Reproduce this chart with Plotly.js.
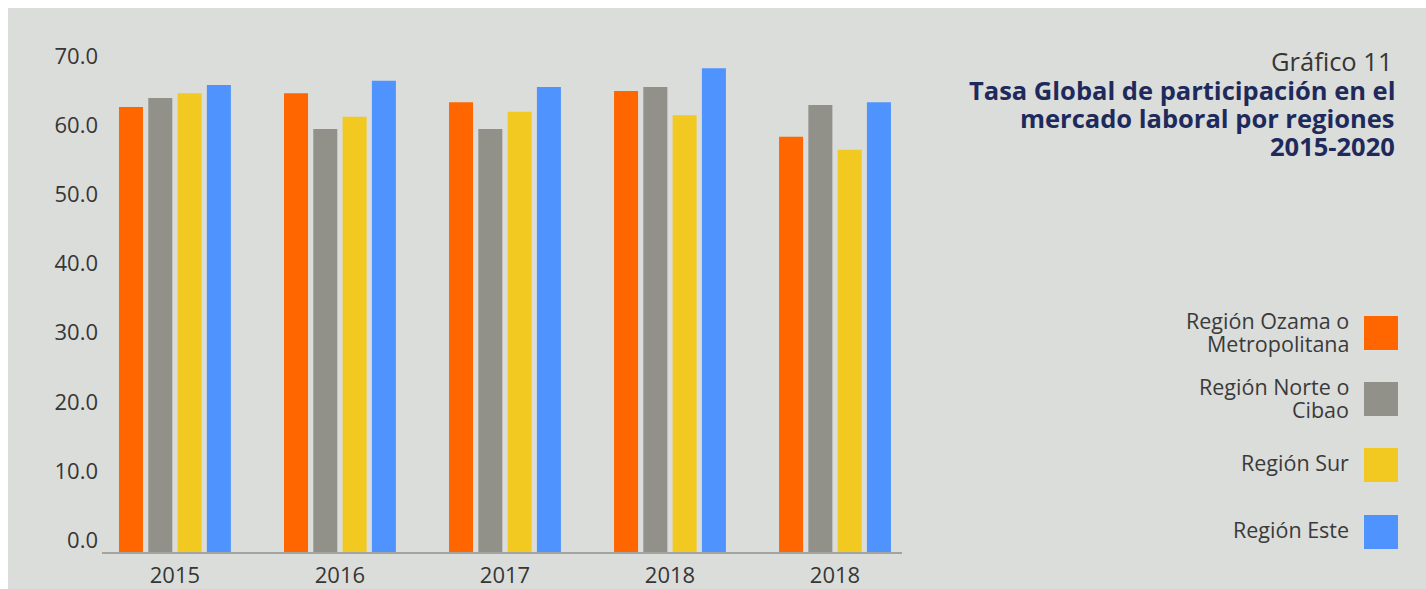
<!DOCTYPE html>
<html>
<head>
<meta charset="utf-8">
<script src="https://cdn.plot.ly/plotly-3.0.1.min.js"></script>
<style>html,body{margin:0;padding:0;background:#fff;}#chart{width:1426px;height:589px;}</style>
</head>
<body>
<div id="chart"></div>
<script>
// ---- data ----
const years = ["2015", "2016", "2017", "2018", "2018"];
const seriesNames = ["Región Ozama o Metropolitana", "Región Norte o Cibao", "Región Sur", "Región Este"];
const legendLabels = [["Región Ozama o", "Metropolitana"], ["Región Norte o", "Cibao"], ["Región Sur"], ["Región Este"]];
const ozama = [64.4, 66.4, 65.1, 66.7, 60.1];
const norte = [65.7, 61.2, 61.2, 67.3, 64.7];
const sur   = [66.4, 63.0, 63.7, 63.2, 58.2];
const este  = [67.6, 68.2, 67.3, 70.0, 65.1];
const yTicks = [0, 10, 20, 30, 40, 50, 60, 70];
const titleTop = "Gráfico 11";
const titleLines = ["Tasa Global de participación en el", "mercado laboral por regiones", "2015-2020"];

// ---- style ----
const colors = ["#FF6600", "#91918A", "#F2C921", "#4F93FF"];
const values = [ozama, norte, sur, este];
const W = 1426, H = 589;
const L = 102, R = 902, T = 34, B = 552;
const fontFam = "'Open Sans', Lato, sans-serif";
const px = x => (x - L) / (R - L);
const py = y => (B - y) / (B - T);
const xIdx = years.map((_, i) => i);

const traces = values.map((v, i) => ({
  type: "bar", x: xIdx, y: v, name: seriesNames[i],
  marker: {color: colors[i]}, hoverinfo: "y+name"
}));

const shapes = [{
  type: "rect", xref: "paper", yref: "paper", layer: "below",
  x0: px(8), x1: px(W + 5), y0: py(H + 5), y1: py(8),
  fillcolor: "#DBDDDA", line: {width: 0}
}];
const annotations = [];

// title
annotations.push({xref: "paper", yref: "paper", x: px(1394), y: py(61), xanchor: "right", yanchor: "middle",
  text: titleTop, showarrow: false, borderpad: 0, font: {family: fontFam, size: 25.5, color: "#363636"}});
titleLines.forEach((t, i) => annotations.push({
  xref: "paper", yref: "paper", x: px(1396), y: py(90 + i * 28), xanchor: "right", yanchor: "middle",
  text: "<b>" + t + "</b>", showarrow: false, borderpad: 0, font: {family: fontFam, size: 25.5, color: "#1F2A5C"}
}));

// legend (swatches to the right of labels)
const legCenters = [333, 399, 465, 532];
seriesNames.forEach((n, i) => {
  const c = legCenters[i];
  shapes.push({type: "rect", xref: "paper", yref: "paper", x0: px(1364), x1: px(1398),
    y0: py(c + 17), y1: py(c - 17), fillcolor: colors[i], line: {width: 0}});
  const lines = legendLabels[i];
  const offs = lines.length === 2 ? [-13, 10] : [-3];
  lines.forEach((t, j) => annotations.push({xref: "paper", yref: "paper", x: px(1350), y: py(c + offs[j]),
    xanchor: "right", yanchor: "middle", text: t, showarrow: false, borderpad: 0,
    font: {family: fontFam, size: 21.5, color: "#3A3A3A"}}));
});

const layout = {
  width: W, height: H,
  margin: {l: L, r: W - R, t: T, b: H - B, pad: 0},
  paper_bgcolor: "#FFFFFF", plot_bgcolor: "rgba(0,0,0,0)",
  barmode: "group", bargap: 0.29, bargroupgap: 0.18,
  showlegend: false,
  xaxis: {
    range: [-0.442, 4.406], tickvals: xIdx, ticktext: years,
    showgrid: false, zeroline: false, showline: true, linecolor: "#A3A39F", linewidth: 2,
    ticks: "", ticklabelstandoff: 3,
    tickfont: {family: fontFam, size: 22, color: "#363636"}, fixedrange: true
  },
  yaxis: {
    range: [0, (B - T) / 6.91], tickvals: yTicks, tickformat: ".1f",
    showgrid: false, zeroline: false, showline: false, ticks: "",
    ticklabelshift: -12, ticklabelstandoff: 3,
    tickfont: {family: fontFam, size: 22, color: "#363636"}, fixedrange: true
  },
  shapes: shapes, annotations: annotations
};

Plotly.newPlot("chart", traces, layout, {displayModeBar: false, staticPlot: true});
</script>
</body>
</html>
